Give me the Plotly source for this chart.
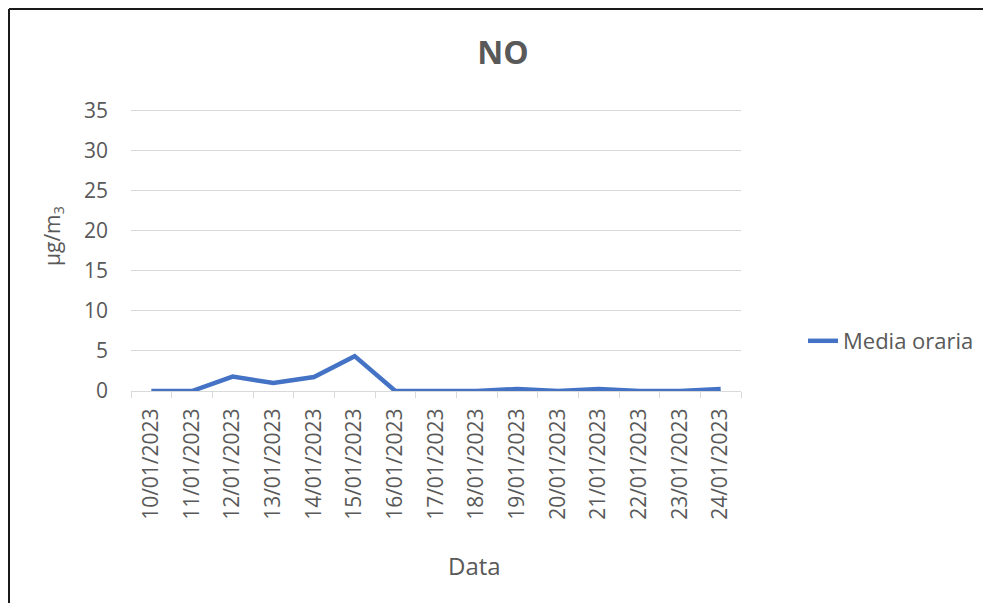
import plotly.graph_objects as go

dates = ["10/01/2023", "11/01/2023", "12/01/2023", "13/01/2023", "14/01/2023",
         "15/01/2023", "16/01/2023", "17/01/2023", "18/01/2023", "19/01/2023",
         "20/01/2023", "21/01/2023", "22/01/2023", "23/01/2023", "24/01/2023"]
media_oraria = [0, 0, 1.8, 1.0, 1.75, 4.35, 0, 0, 0, 0.25, 0, 0.25, 0, 0, 0.25]
y_ticks = [0, 5, 10, 15, 20, 25, 30, 35]

grey = "#595959"
font = "Open Sans, Liberation Sans, sans-serif"

# page has an 8px body margin, so the figure is drawn 8px in from the window edge
W, H = 983, 595
L, T, PW, PH = 123, 101, 610, 282


def px(x):
    return (x - L) / PW


def py(y):
    return (T + PH - y) / PH


fig = go.Figure()
fig.add_trace(go.Scatter(x=dates, y=media_oraria, mode="lines", name="Media oraria",
                         line=dict(color="#4472C4", width=4.5)))

fig.update_layout(
    width=W, height=H,
    margin=dict(l=L, r=W - L - PW, t=T, b=H - T - PH),
    paper_bgcolor="white", plot_bgcolor="white",
    font=dict(family=font, color=grey, size=20),
    title=dict(text="<b>NO</b>", x=495 / W, xanchor="center",
               y=1 - 45 / H, yanchor="middle",
               font=dict(size=32, color=grey, family=font)),
    showlegend=True,
    legend=dict(x=px(795), y=py(333), xanchor="left", yanchor="middle",
                font=dict(size=22, color=grey)),
)
fig.update_xaxes(type="category", range=[-0.5, len(dates) - 0.5],
                 tickangle=-90, showgrid=False,
                 showline=True, linecolor="#D9D9D9", linewidth=1,
                 ticks="outside", tickson="boundaries", ticklen=6, tickcolor="#D9D9D9",
                 ticklabelstandoff=8,
                 tickfont=dict(size=21, color=grey), fixedrange=True)
fig.update_yaxes(range=[0, 35.2], tickvals=y_ticks, showgrid=True, gridcolor="#D9D9D9",
                 zeroline=False, showline=False, ticks="",
                 ticklabelstandoff=22,
                 tickfont=dict(size=21, color=grey))

fig.add_annotation(text="µg/m<sub>3</sub>", xref="paper", yref="paper",
                   x=px(45), y=py(228), textangle=-90,
                   showarrow=False, font=dict(size=21, color=grey),
                   xanchor="center", yanchor="middle")
fig.add_annotation(text="Data", xref="paper", yref="paper",
                   x=px(466), y=py(557),
                   showarrow=False, font=dict(size=24, color=grey),
                   xanchor="center", yanchor="middle")

# frame around the chart (top and left edges visible)
fig.add_shape(type="line", xref="paper", yref="paper",
              x0=px(1), x1=px(W), y0=py(1), y1=py(1),
              line=dict(color="#1a1a1a", width=2))
fig.add_shape(type="line", xref="paper", yref="paper",
              x0=px(1), x1=px(1), y0=py(1), y1=py(H),
              line=dict(color="#1a1a1a", width=2))

fig.write_html("out.html")
